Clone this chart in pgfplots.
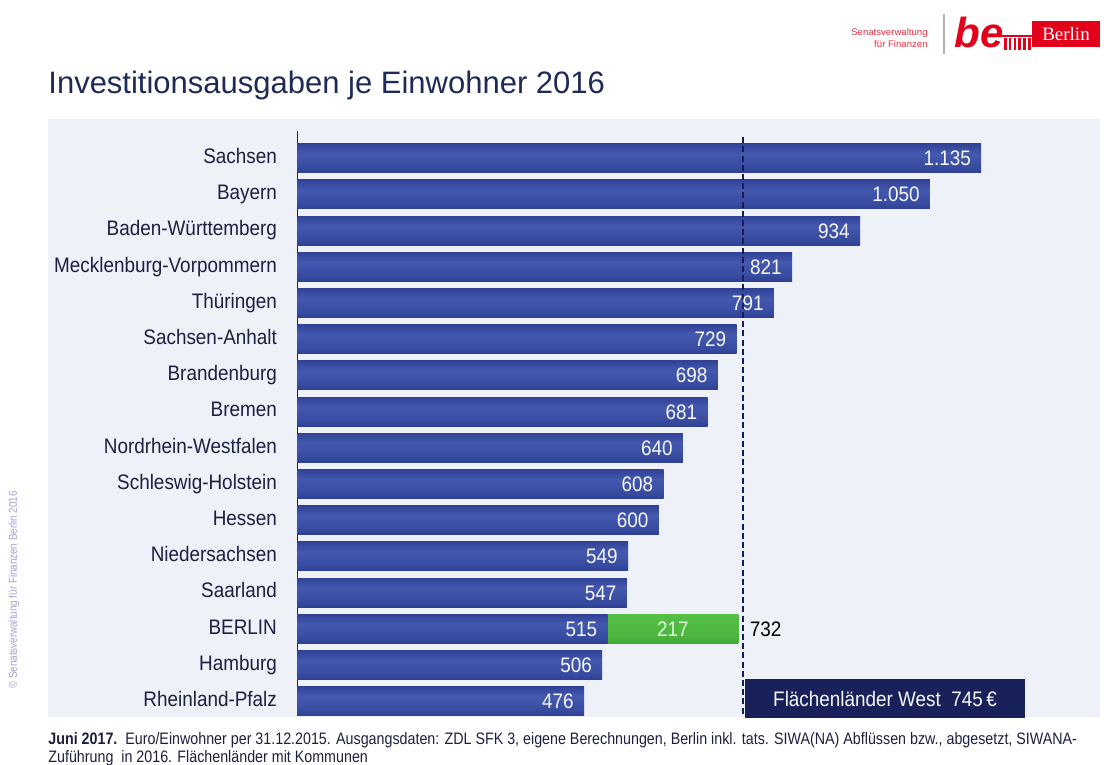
\documentclass[border=0pt]{standalone}
\usepackage{fontspec}
\setmainfont{Liberation Sans}
\newfontfamily\lblfont[FakeStretch=0.90]{Liberation Sans}
\newfontfamily\footfont[FakeStretch=0.86]{Liberation Sans}
\newfontfamily\berlinfont{Liberation Serif}
\usepackage{pgfplots}
\pgfplotsset{compat=1.18}
\definecolor{panel}{HTML}{EEF1F8}
\definecolor{navyD}{HTML}{19236A}
\definecolor{navyB}{HTML}{151D58}
\definecolor{boxnavy}{HTML}{18215A}
\definecolor{titlecol}{HTML}{1E2B57}
\definecolor{lblcol}{HTML}{1C2040}
\definecolor{logored}{HTML}{E2001A}
\pgfdeclareverticalshading{barblue}{100bp}{%
  color(0bp)=(rgb,255:red,22;green,30;blue,90);
  color(12bp)=(rgb,255:red,36;green,50;blue,128);
  color(35bp)=(rgb,255:red,55;green,75;blue,160);
  color(58bp)=(rgb,255:red,68;green,88;blue,175);
  color(82bp)=(rgb,255:red,42;green,58;blue,140);
  color(100bp)=(rgb,255:red,24;green,32;blue,96)}
\pgfdeclareverticalshading{bargreen}{100bp}{%
  color(0bp)=(rgb,255:red,52;green,150;blue,44);
  color(40bp)=(rgb,255:red,76;green,182;blue,62);
  color(85bp)=(rgb,255:red,88;green,194;blue,72);
  color(100bp)=(rgb,255:red,130;green,214;blue,110)}
\tikzset{
  valnode/.style={anchor=east, inner sep=0pt, xshift=-5pt, text height=7.6pt, text depth=0pt, text=white!94!gray, font=\fontsize{10.5}{12}\selectfont\lblfont},
}
\pgfplotsset{
  bb/.style={xbar, bar shift=0pt, bar width=14.5pt, draw=none, shade, shading=barblue,
    point meta=x,
    nodes near coords={\pgfmathprintnumber[1000 sep={.}]{\pgfplotspointmeta}},
    every node near coord/.append style={valnode}},
}
\begin{document}
\begin{tikzpicture}
\path[use as bounding box] (0pt,0pt) rectangle (552pt,-382.5pt);
% panel
\fill[panel] (24pt,-59.5pt) rectangle (550pt,-358.5pt);
% title
\node[anchor=base west, inner sep=0pt, text=titlecol, font=\fontsize{15.5}{18}\selectfont] at (24pt,-47pt) {Investitionsausgaben je Einwohner 2016};
% logo
\node[anchor=base east, inner sep=0pt, text=logored!80, font=\fontsize{4.8}{5}\selectfont] at (464pt,-18pt) {Senatsverwaltung};
\node[anchor=base east, inner sep=0pt, text=logored!80, font=\fontsize{4.8}{5}\selectfont] at (464pt,-24pt) {für Finanzen};
\draw[gray!60, line width=0.6pt] (472pt,-7pt) -- (472pt,-27pt);
\node[anchor=base west, inner sep=0pt, text=logored, font=\fontsize{21}{22}\selectfont\bfseries\itshape] at (477pt,-24pt) {be};
\foreach \i in {0,...,5} {\fill[logored] (502pt+\i*2.4pt,-25pt) rectangle (503.3pt+\i*2.4pt,-19pt);}
\fill[logored] (501pt,-18.5pt) rectangle (516pt,-17.6pt);
\fill[logored] (516pt,-10.5pt) rectangle (550pt,-23.5pt);
\node[anchor=center, inner sep=0pt, text=white, font=\fontsize{9.5}{10}\selectfont\berlinfont] at (533pt,-17pt) {Berlin};
% rotated copyright
\node[rotate=90, inner sep=0pt, text=blue!35!gray!55, font=\fontsize{5.7}{6}\selectfont\footfont] at (7pt,-295pt) {© Senatsverwaltung für Finanzen Berlin 2016};
% footnote
\node[anchor=base west, inner sep=0pt, text=lblcol, font=\fontsize{8.3}{9}\selectfont\footfont] at (24pt,-372pt) {\textbf{Juni 2017.}\ \ Euro/Einwohner per 31.12.2015. Ausgangsdaten: ZDL SFK 3, eigene Berechnungen, Berlin inkl. tats. SIWA(NA) Abflüssen bzw., abgesetzt, SIWANA-};
\node[anchor=base west, inner sep=0pt, text=lblcol, font=\fontsize{8.3}{9}\selectfont\footfont] at (24pt,-381pt) {Zuführung\ \ in 2016. Flächenländer mit Kommunen};
\begin{axis}[
  at={(148.65pt,-358pt)}, anchor=south west,
  scale only axis, width=376.6pt, height=292.5pt,
  xmin=0, xmax=1250, ymin=-0.75, ymax=15.41,
  y dir=reverse,
  axis x line=none, axis y line*=left,
  y axis line style={draw=navyD, line width=0.5pt, -},
  ytick={0,...,15},
  yticklabels={Sachsen,Bayern,Baden-Württemberg,Mecklenburg-Vorpommern,Thüringen,Sachsen-Anhalt,Brandenburg,Bremen,Nordrhein-Westfalen,Schleswig-Holstein,Hessen,Niedersachsen,Saarland,BERLIN,Hamburg,Rheinland-Pfalz},
  major tick length=0pt,
  yticklabel style={anchor=east, inner sep=0pt, xshift=-10pt, text height=7.6pt, text depth=2.2pt, text=lblcol, font=\fontsize{10.5}{12}\selectfont\lblfont},
  clip=false,
  /pgf/number format/assume math mode=true,
]
% Berlin green part (SIWA), drawn under the blue bar
\addplot[xbar, bar shift=0pt, bar width=14.5pt, draw=none, shade, shading=bargreen] coordinates {(732,13)};
% main bars, one plot per bar so each gets its own shading
\addplot[bb] coordinates {(1135,0)};
\addplot[bb] coordinates {(1050,1)};
\addplot[bb] coordinates {(934,2)};
\addplot[bb] coordinates {(821,3)};
\addplot[bb] coordinates {(791,4)};
\addplot[bb] coordinates {(729,5)};
\addplot[bb] coordinates {(698,6)};
\addplot[bb] coordinates {(681,7)};
\addplot[bb] coordinates {(640,8)};
\addplot[bb] coordinates {(608,9)};
\addplot[bb] coordinates {(600,10)};
\addplot[bb] coordinates {(549,11)};
\addplot[bb] coordinates {(547,12)};
\addplot[bb] coordinates {(515,13)};
\addplot[bb] coordinates {(506,14)};
\addplot[bb] coordinates {(476,15)};
% label of the green part
\addplot[draw=none, point meta=explicit symbolic, nodes near coords,
  every node near coord/.append style={anchor=center, inner sep=0pt, text height=7.6pt, text depth=0pt, text=white!88!green, font=\fontsize{10.5}{12}\selectfont\lblfont}]
  coordinates {(623.5,13) [217]};
% total for Berlin
\addplot[draw=none, point meta=explicit symbolic, nodes near coords,
  every node near coord/.append style={anchor=west, inner sep=0pt, xshift=5.5pt, text height=7.6pt, text depth=0pt, text=black, font=\fontsize{10.5}{12}\selectfont\lblfont}]
  coordinates {(732,13) [732]};
% average line
\addplot[draw=navyB, line width=1.1pt, dash pattern=on 3pt off 1.6pt] coordinates {(740,-0.58) (740,15.41)};
% Flächenländer West box
\fill[boxnavy] (axis cs:743,14.39) rectangle (axis cs:1208,15.47);
\node[text=white!94!gray, font=\fontsize{10.5}{12}\selectfont\lblfont] at (axis cs:975.5,14.93) {Flächenländer West\ \ 745\,€};
\end{axis}
\end{tikzpicture}
\end{document}
